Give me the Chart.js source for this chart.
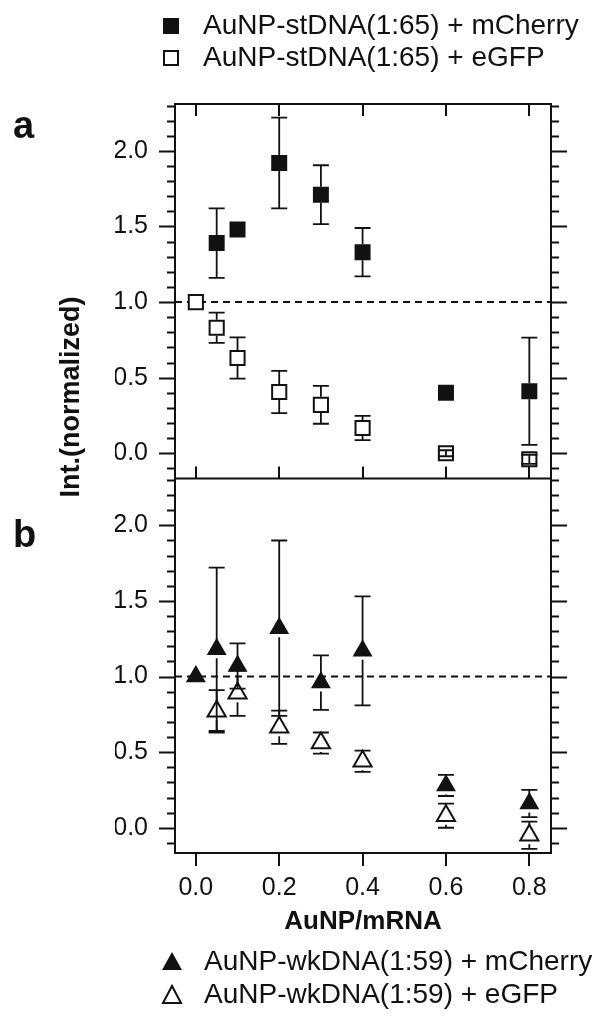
<!DOCTYPE html>
<html>
<head>
<meta charset="utf-8">
<script src="https://cdn.jsdelivr.net/npm/chart.js@4.4.0/dist/chart.umd.min.js"></script>
<style>
  html, body { margin: 0; padding: 0; background: #fff; }
</style>
</head>
<body>
<canvas id="myChart" width="602" height="1023"></canvas>
<script>
// AuNP/mRNA ratios (x)
var ratios = [0, 0.05, 0.1, 0.2, 0.3, 0.4, 0.6, 0.8];

// panel a - AuNP-stDNA(1:65)
var stCherry    = [null, 1.39, 1.48, 1.92, 1.71, 1.33, 0.40, 0.41];
var stCherryErr = [0, 0.23, 0, 0.30, 0.195, 0.16, 0, 0.355];
var stGfp       = [1.0, 0.83, 0.63, 0.405, 0.32, 0.167, 0.0, -0.04];
var stGfpErr    = [0, 0.10, 0.137, 0.14, 0.125, 0.08, 0.02, 0.03];

// panel b - AuNP-wkDNA(1:59)
var wkCherry    = [1.0, 1.18, 1.07, 1.32, 0.96, 1.17, 0.28, 0.16];
var wkCherryErr = [0, 0.54, 0.15, 0.58, 0.18, 0.36, 0.07, 0.09];
var wkGfp       = [null, 0.77, 0.89, 0.665, 0.56, 0.44, 0.08, -0.05];
var wkGfpErr    = [0, 0.14, 0.15, 0.11, 0.07, 0.07, 0.08, 0.09];

var legendTop = ['AuNP-stDNA(1:65) + mCherry', 'AuNP-stDNA(1:65) + eGFP'];
var legendBottom = ['AuNP-wkDNA(1:59) + mCherry', 'AuNP-wkDNA(1:59) + eGFP'];

var xTicks = [0, 0.2, 0.4, 0.6, 0.8];
var yTicks = [0, 0.5, 1.0, 1.5, 2.0];
var refLevel = 1.0;

var xMin = -0.05, xMax = 0.852;
var yMin = -0.167, yMax = 2.31;

var FONT = "'Liberation Sans', Arial, sans-serif";
var INK = '#111';

function pts(vals) {
  return vals.map(function (v, i) { return { x: ratios[i], y: v }; });
}

// error bars, drawn from the marker edge out to the caps
var errorBars = {
  id: 'errorBars',
  afterDatasetsDraw: function (chart) {
    var ctx = chart.ctx;
    var xs = chart.scales.x;
    ctx.save();
    ctx.strokeStyle = INK;
    ctx.lineWidth = 1.8;
    chart.data.datasets.forEach(function (ds) {
      if (!ds.errs) return;
      var ys = chart.scales[ds.yAxisID];
      ds.data.forEach(function (p, i) {
        var e = ds.errs[i];
        if (p.y === null || !e) return;
        var px = xs.getPixelForValue(p.x);
        var py = ys.getPixelForValue(p.y);
        var top = ys.getPixelForValue(p.y + e);
        var bot = ys.getPixelForValue(p.y - e);
        var h = ds.markerHalf;
        ctx.beginPath();
        if (py - top > h) {
          ctx.moveTo(px, py - h); ctx.lineTo(px, top);
          ctx.moveTo(px, py + h); ctx.lineTo(px, bot);
        } else {
          ctx.moveTo(px, top); ctx.lineTo(px, bot);
        }
        ctx.moveTo(px - 8, top); ctx.lineTo(px + 8, top);
        ctx.moveTo(px - 8, bot); ctx.lineTo(px + 8, bot);
        ctx.stroke();
      });
    });
    ctx.restore();
  }
};

// frame and tick marks in the Igor style
var frameTicks = {
  id: 'frameTicks',
  afterDatasetsDraw: function (chart) {
    var ctx = chart.ctx;
    var xs = chart.scales.x, ya = chart.scales.ya, yb = chart.scales.yb;
    var area = chart.chartArea;
    var L = area.left, R = area.right;
    ctx.save();
    ctx.strokeStyle = INK;
    ctx.lineWidth = 2;
    ctx.beginPath();
    ctx.rect(L, area.top, R - L, area.bottom - area.top);
    ctx.moveTo(L, ya.bottom); ctx.lineTo(R, ya.bottom);
    ctx.stroke();

    ctx.beginPath();
    [ya, yb].forEach(function (s) {
      for (var k = -1; k <= 23; k++) {
        var v = k / 10;
        if (v < s.min || v > s.max) continue;
        var py = Math.round(s.getPixelForValue(v)) + 0.5;
        var len = (k % 5 === 0) ? 16 : 8;
        ctx.moveTo(L - len, py); ctx.lineTo(L, py);
        ctx.moveTo(R, py); ctx.lineTo(R + len, py);
      }
    });
    xTicks.forEach(function (v) {
      var px = Math.round(xs.getPixelForValue(v));
      ctx.moveTo(px, ya.top); ctx.lineTo(px, ya.top + 12);
      ctx.moveTo(px, ya.bottom); ctx.lineTo(px, ya.bottom - 12);
      ctx.moveTo(px, yb.bottom); ctx.lineTo(px, yb.bottom + 13);
    });
    ctx.stroke();
    ctx.restore();
  }
};

// legends, panel letters and axis titles
var annotations = {
  id: 'annotations',
  afterDraw: function (chart) {
    var ctx = chart.ctx;
    var xs = chart.scales.x;
    ctx.save();
    ctx.fillStyle = INK;
    ctx.strokeStyle = INK;
    ctx.lineWidth = 2;

    // top legend (squares)
    ctx.fillRect(163, 18, 16, 16);
    ctx.strokeRect(164, 51, 14, 14);
    // bottom legend (triangles)
    ctx.beginPath();
    ctx.moveTo(172, 952); ctx.lineTo(182, 970); ctx.lineTo(162, 970); ctx.closePath();
    ctx.fill();
    ctx.beginPath();
    ctx.moveTo(172, 986); ctx.lineTo(181, 1003); ctx.lineTo(163, 1003); ctx.closePath();
    ctx.stroke();

    ctx.font = '28px ' + FONT;
    ctx.textBaseline = 'middle';
    ctx.textAlign = 'left';
    ctx.fillText(legendTop[0], 203, 26);
    ctx.fillText(legendTop[1], 203, 58);
    ctx.fillText(legendBottom[0], 204, 962);
    ctx.fillText(legendBottom[1], 204, 995);

    ctx.font = 'bold 38px ' + FONT;
    ctx.textBaseline = 'alphabetic';
    ctx.fillText('a', 13, 138);
    ctx.fillText('b', 13, 547);

    ctx.font = 'bold 26px ' + FONT;
    ctx.textAlign = 'center';
    ctx.textBaseline = 'middle';
    ctx.fillText('AuNP/mRNA', (xs.left + xs.right) / 2, 922);

    ctx.font = 'bold 27px ' + FONT;
    ctx.translate(72, 397);
    ctx.rotate(-Math.PI / 2);
    ctx.fillText('Int.(normalized)', 0, 0);
    ctx.restore();
  }
};

function yScale(lo, hi) {
  return {
    type: 'linear',
    position: 'left',
    stack: 'panels',
    stackWeight: 1,
    min: lo,
    max: hi,
    grid: { display: false, drawTicks: false },
    border: { display: false },
    afterFit: function (s) { s.width = 60; },
    afterBuildTicks: function (s) { s.ticks = yTicks.map(function (v) { return { value: v }; }); },
    ticks: {
      padding: 27,
      color: INK,
      font: { family: FONT, size: 25 },
      callback: function (v) { return Number(v).toFixed(1); }
    }
  };
}

var ctx = document.getElementById('myChart').getContext('2d');

var myChart = new Chart(ctx, {
  type: 'scatter',
  data: {
    datasets: [
      { label: legendTop[0], data: pts(stCherry), errs: stCherryErr, markerHalf: 8, yAxisID: 'ya',
        pointStyle: 'rect', pointRadius: 11.3, backgroundColor: INK, borderColor: INK, borderWidth: 0 },
      { label: legendTop[1], data: pts(stGfp), errs: stGfpErr, markerHalf: 8, yAxisID: 'ya',
        pointStyle: 'rect', pointRadius: 10, backgroundColor: '#fff', borderColor: INK, borderWidth: 2 },
      { label: legendBottom[0], data: pts(wkCherry), errs: wkCherryErr, markerHalf: 9, yAxisID: 'yb',
        pointStyle: 'triangle', pointRadius: 11.5, backgroundColor: INK, borderColor: INK, borderWidth: 0 },
      { label: legendBottom[1], data: pts(wkGfp), errs: wkGfpErr, markerHalf: 9, yAxisID: 'yb',
        pointStyle: 'triangle', pointRadius: 10.5, backgroundColor: '#fff', borderColor: INK, borderWidth: 2 },
      { type: 'line', data: [{ x: xMin, y: refLevel }, { x: xMax, y: refLevel }], yAxisID: 'ya',
        borderColor: INK, borderWidth: 2, borderDash: [7, 5], pointRadius: 0 },
      { type: 'line', data: [{ x: xMin, y: refLevel }, { x: xMax, y: refLevel }], yAxisID: 'yb',
        borderColor: INK, borderWidth: 2, borderDash: [7, 5], pointRadius: 0 }
    ]
  },
  options: {
    responsive: false,
    animation: false,
    events: [],
    layout: { padding: { top: 104, left: 115, right: 51, bottom: 100 } },
    plugins: { legend: { display: false }, tooltip: { enabled: false } },
    scales: {
      x: {
        type: 'linear',
        position: 'bottom',
        min: xMin,
        max: xMax,
        grid: { display: false, drawTicks: false },
        border: { display: false },
        afterFit: function (s) { s.height = 70; },
        afterBuildTicks: function (s) { s.ticks = xTicks.map(function (v) { return { value: v }; }); },
        ticks: {
          padding: 20,
          color: INK,
          font: { family: FONT, size: 25 },
          callback: function (v) { return Number(v).toFixed(1); }
        }
      },
      // the later stacked scale is laid out on top, so panel b comes first
      yb: yScale(yMin, yMax),
      ya: yScale(yMin, yMax)
    }
  },
  plugins: [errorBars, frameTicks, annotations]
});
</script>
</body>
</html>
